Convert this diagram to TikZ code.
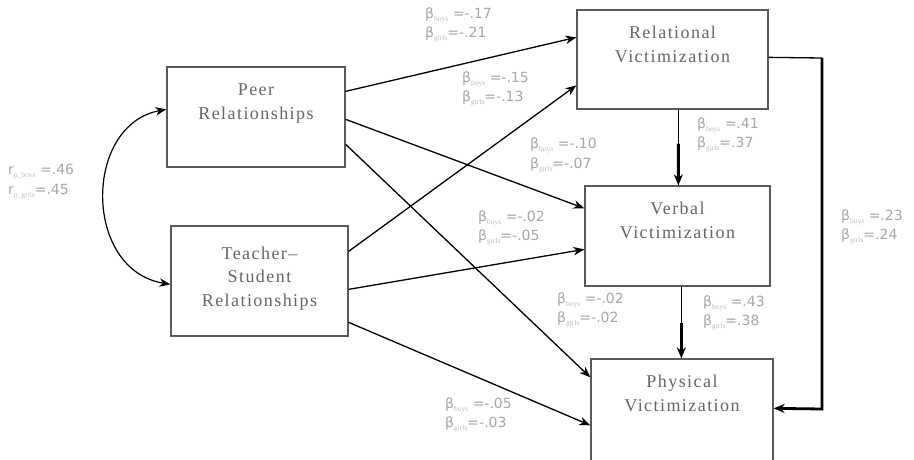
\documentclass[tikz,border=0pt]{standalone}
\usepackage{fontspec}
\usetikzlibrary{arrows.meta,calc}
\newfontfamily\boxfont[LetterSpace=8]{Liberation Serif}
\newfontfamily\lblfont{DejaVu Sans}
\newfontfamily\subfont{Liberation Serif}
\definecolor{boxtextgray}{HTML}{666666}
\definecolor{bordergray}{HTML}{5A5A5A}
\definecolor{lblgray}{HTML}{A6A6A6}
\definecolor{subgray}{HTML}{BDBDBD}
\newcommand\coef[3]{#1\raisebox{-3pt}{\subfont\fontsize{7.5}{7.5}\selectfont\textcolor{subgray}{#2}}#3}
\begin{document}
\begin{tikzpicture}[x=1pt,y=-1pt,
  box/.style={draw=bordergray, line width=1.3pt, rectangle, inner sep=0pt, fill=white},
  btext/.style={font=\boxfont\fontsize{18}{24.5}\selectfont, text=boxtextgray, align=center, anchor=north, inner sep=0pt},
  lbl/.style={font=\lblfont\fontsize{14}{19.5}\selectfont, text=lblgray, align=left, anchor=west, inner sep=0pt},
  arr/.style={line width=1.3pt, -{Stealth[length=11pt,width=8.5pt]}},
  plain/.style={line width=1.3pt},
  heavy/.style={line width=2.8pt, -{Stealth[length=11pt,width=9pt]}}
]
\useasboundingbox (0,0) rectangle (914,460);
\clip (0,0) rectangle (914,460);

% boxes
\node[box, minimum width=178pt, minimum height=100pt] (peer) at (256,117) {};
\node[box, minimum width=177pt, minimum height=110pt] (teacher) at (259.5,281) {};
\node[box, minimum width=191pt, minimum height=99pt] (rel) at (672.5,59.5) {};
\node[box, minimum width=185pt, minimum height=100pt] (verbal) at (677.5,236) {};
\node[box, minimum width=182pt, minimum height=120pt] (phys) at (682,419) {};

% box texts
\node[btext] (peertxt) at ([yshift=-17pt]peer.north) {Peer\\Relationships};
\node[btext, font=\boxfont\fontsize{18}{23.5}\selectfont] (teachertxt) at ([yshift=-21pt]teacher.north) {Teacher–\\Student\\Relationships};
\node[btext] (reltxt) at ([yshift=-16pt]rel.north) {Relational\\Victimization};
\node[btext] (verbaltxt) at ([yshift=-16pt]verbal.north) {Verbal\\Victimization};
\node[btext] (phystxt) at ([yshift=-16pt]phys.north) {Physical\\Victimization};

% correlation curve
\draw[line width=1.2pt, {Stealth[length=11pt,width=8.5pt]}-{Stealth[length=11pt,width=8.5pt]}]
  ([yshift=-43pt]peer.north west) .. controls (83,125) and (83,270) .. ([yshift=-59pt]teacher.north west);

% paths from predictors
\draw[arr] ([yshift=-25pt]peer.north east) -- ([yshift=-28pt]rel.north west);
\draw[arr] ([yshift=-53pt]peer.north east) -- ([yshift=-23pt]verbal.north west);
\draw[arr] ([yshift=-78pt]peer.north east) -- ([yshift=-19pt]phys.north west);
\draw[arr] ([yshift=-26pt]teacher.north east) -- ([yshift=-76pt]rel.north west);
\draw[arr] ([yshift=-64pt]teacher.north east) -- ([yshift=-64pt]verbal.north west);
\draw[arr] ([yshift=-97pt]teacher.north east) -- ([yshift=-67pt]phys.north west);

% vertical paths
\draw[plain] ([xshift=102pt]rel.south west) -- ([xshift=94pt]verbal.north west);
\draw[heavy] ($([xshift=102pt]rel.south west)!0.45!([xshift=94pt]verbal.north west)$) -- ([xshift=94pt]verbal.north west);
\draw[plain] ([xshift=97pt]verbal.south west) -- ([xshift=91pt]phys.north west);
\draw[heavy] ($([xshift=97pt]verbal.south west)!0.5!([xshift=91pt]phys.north west)$) -- ([xshift=91pt]phys.north west);

% feedback path
\coordinate (fbtop) at (822,58);
\coordinate (fbbot) at (822,409);
\draw[plain] ([yshift=-48pt]rel.north east) -- (fbtop);
\draw[heavy] (fbtop) -- (fbbot) -- ([yshift=-50pt]phys.north east);

% coefficient labels
\node[lbl] (l1) at (425,25) {\coef{β}{boys}{ =-.17}\\\coef{β}{girls}{=-.21}};
\node[lbl] (l2) at (462,89) {\coef{β}{boys}{ =-.15}\\\coef{β}{girls}{=-.13}};
\node[lbl] (l3) at (530,155.5) {\coef{β}{boys}{ =-.10}\\\coef{β}{girls}{=-.07}};
\node[lbl] (l4) at (478,228) {\coef{β}{boys}{ =-.02}\\\coef{β}{girls}{=-.05}};
\node[lbl] (l5) at (697,135) {\coef{β}{boys}{ =.41}\\\coef{β}{girls}{=.37}};
\node[lbl] (l6) at (557,310) {\coef{β}{boys}{ =-.02}\\\coef{β}{girls}{=-.02}};
\node[lbl] (l7) at (703,313) {\coef{β}{boys}{ =.43}\\\coef{β}{girls}{=.38}};
\node[lbl] (l8) at (841,227) {\coef{β}{boys}{ =.23}\\\coef{β}{girls}{=.24}};
\node[lbl] (l9) at (445,415) {\coef{β}{boys}{ =-.05}\\\coef{β}{girls}{=-.03}};
\node[lbl] (lr) at (8,181.5) {\coef{r}{p\_boys}{ =.46}\\\coef{r}{p\_girls}{=.45}};
\end{tikzpicture}
\end{document}
